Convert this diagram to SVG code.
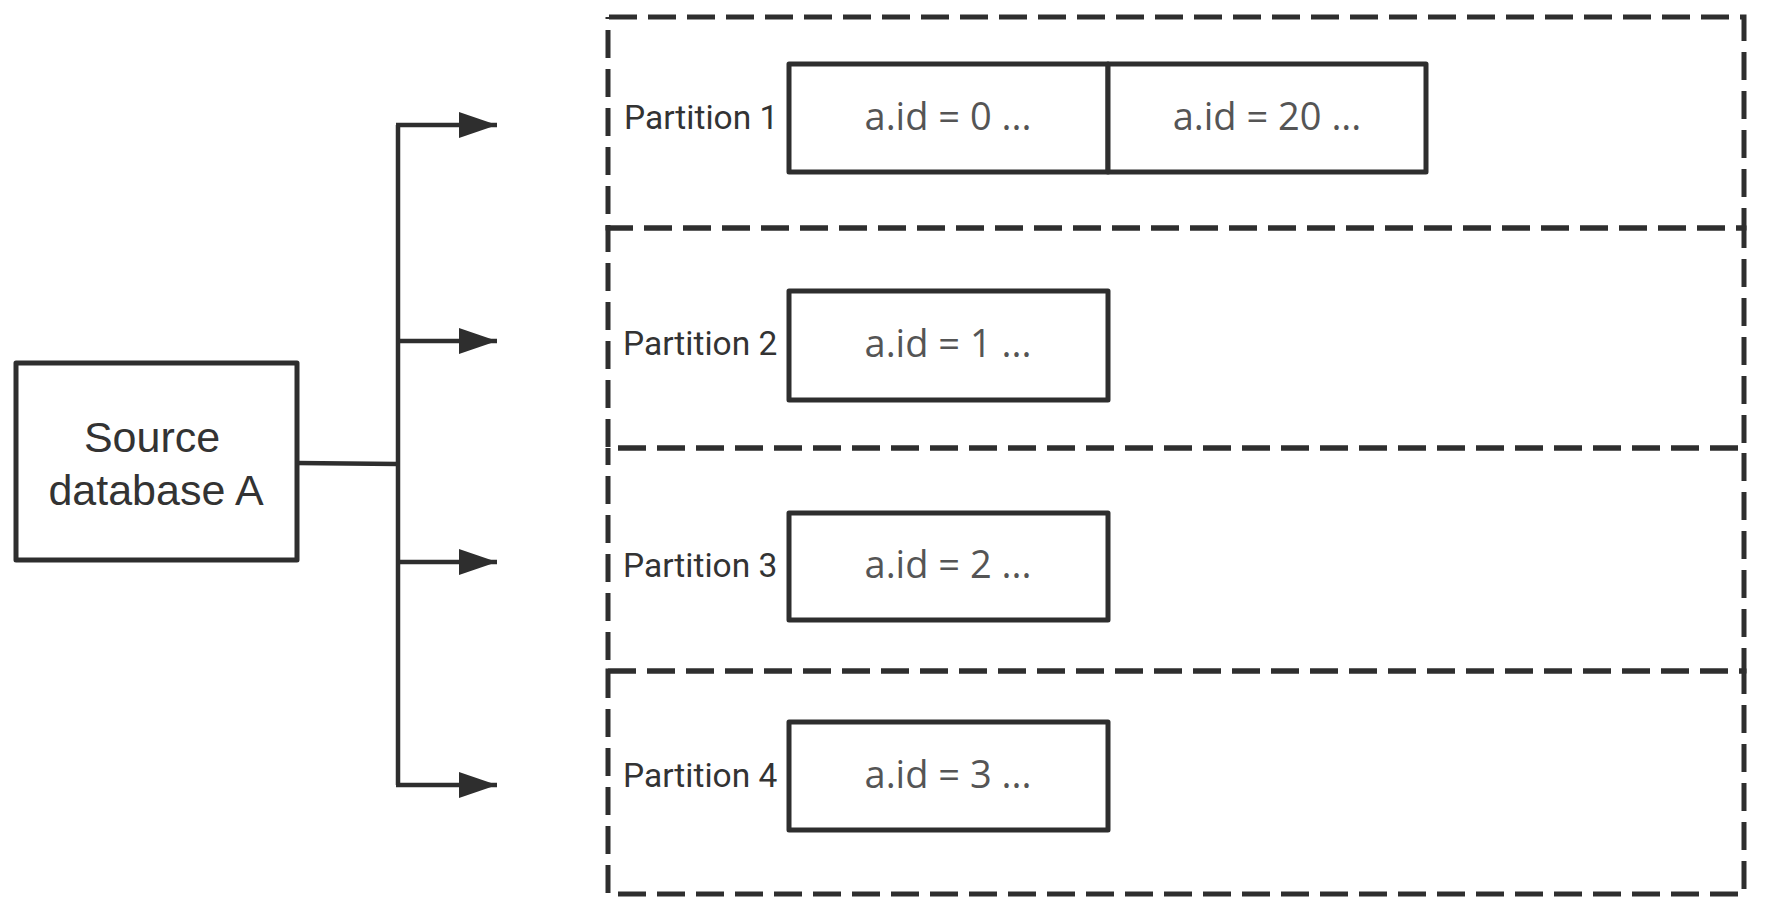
<svg xmlns="http://www.w3.org/2000/svg" width="1766" height="914" viewBox="0 0 1766 914">
<style>
.box{fill:#fff;stroke:#2e2e2e;stroke-width:5;stroke-linejoin:round}
.part{fill:none;stroke:#2e2e2e;stroke-width:5;stroke-dasharray:28 11}
.conn{fill:none;stroke:#2e2e2e;stroke-width:4.5}
.src{font-family:"Liberation Sans",Arial,sans-serif;font-size:43px;fill:#333;text-anchor:middle}
.lbl{font-family:Roboto,"Liberation Sans",sans-serif;font-size:33.5px;fill:#333}
.val{font-family:"Open Sans","Liberation Sans",sans-serif;font-size:38px;fill:#555;text-anchor:middle}
</style>
<defs>
<marker id="arr" markerUnits="userSpaceOnUse" markerWidth="40" markerHeight="26" refX="38" refY="13" orient="auto">
<path d="M0,0 L38,13 L0,26 Z" fill="#2e2e2e"/>
</marker>
</defs>
<rect width="1766" height="914" fill="#fff"/>
<g id="partition1">
<rect class="part" x="608" y="17" width="1136" height="211" stroke-dashoffset="38"/>
<text class="lbl" x="624" y="129">Partition 1</text>
<rect class="box" x="789" y="64" width="319" height="108"/>
<rect class="box" x="1108" y="64" width="318" height="108"/>
<text class="val" x="948" y="130">a.id = 0 ...</text>
<text class="val" x="1267" y="130">a.id = 20 ...</text>
</g>
<g id="partition2">
<rect class="part" x="608" y="228" width="1136" height="220" stroke-dashoffset="3"/>
<text class="lbl" x="623" y="355">Partition 2</text>
<rect class="box" x="789" y="291" width="319" height="109"/>
<text class="val" x="948" y="357">a.id = 1 ...</text>
</g>
<g id="partition3">
<rect class="part" x="608" y="448" width="1136" height="223" stroke-dashoffset="29"/>
<text class="lbl" x="623" y="577">Partition 3</text>
<rect class="box" x="789" y="513" width="319" height="107"/>
<text class="val" x="948" y="578">a.id = 2 ...</text>
</g>
<g id="partition4">
<rect class="part" x="608" y="671" width="1136" height="223"/>
<text class="lbl" x="623" y="787">Partition 4</text>
<rect class="box" x="789" y="722" width="319" height="108"/>
<text class="val" x="948" y="788">a.id = 3 ...</text>
</g>
<g id="source">
<rect class="box" x="16" y="363" width="281" height="197"/>
<text class="src" x="152" y="452">Source</text>
<text class="src" x="156" y="505">database A</text>
</g>
<g id="connectors">
<path class="conn" d="M297,463 L398,464"/>
<path class="conn" d="M398,125 L398,785"/>
<path class="conn" d="M396,125 L497,125" marker-end="url(#arr)"/>
<path class="conn" d="M398,341 L497,341" marker-end="url(#arr)"/>
<path class="conn" d="M398,562 L497,562" marker-end="url(#arr)"/>
<path class="conn" d="M396,785 L497,785" marker-end="url(#arr)"/>
</g>
</svg>
